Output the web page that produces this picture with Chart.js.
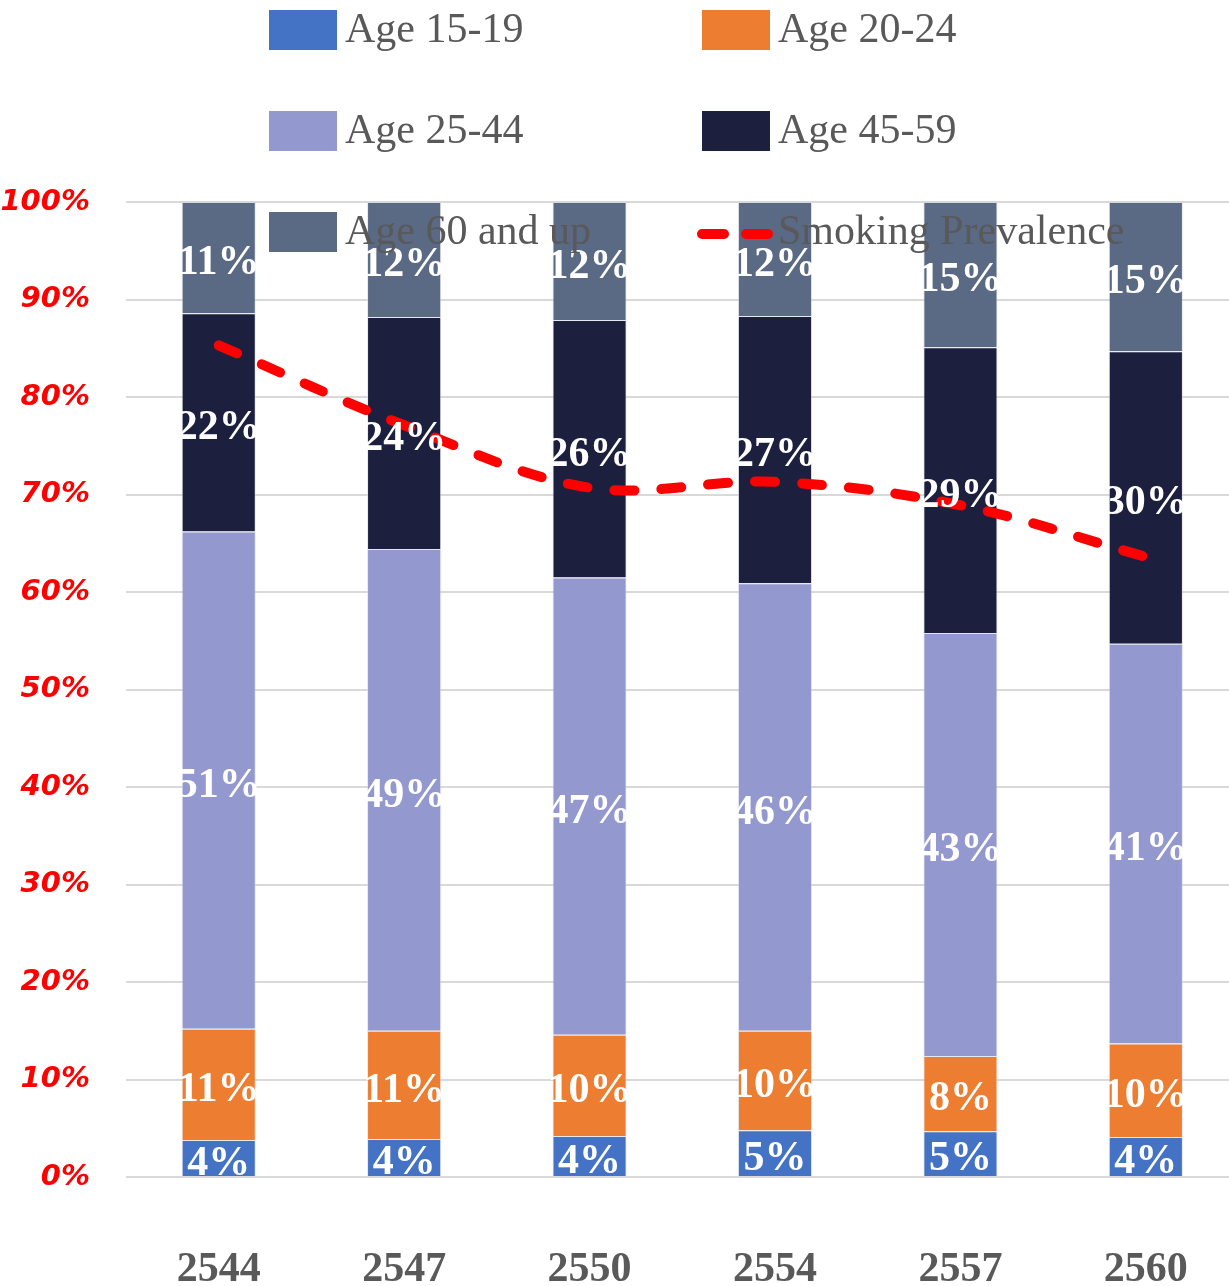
<!DOCTYPE html>
<html>
<head>
<meta charset="utf-8">
<script src="https://cdn.jsdelivr.net/npm/chart.js@4.4.1/dist/chart.umd.min.js"></script>
<style>
  html, body { margin: 0; padding: 0; background: #fff; overflow: hidden; }
  #wrap { width: 1229px; height: 1286px; overflow: hidden; position: relative; }
  #wrap canvas { position: absolute; left: 0; top: 0; }
</style>
</head>
<body>
<div id="wrap"><canvas id="chart" width="1248" height="1286" style="width:1248px;height:1286px"></canvas></div>
<script>
// Years (Buddhist era)
const years = ["2544", "2547", "2550", "2554", "2557", "2560"];

// Share of smokers by age group (%)
const age15to19 = [3.8, 3.9, 4.2, 4.8, 4.7, 4.1];
const age20to24 = [11.4, 11.1, 10.4, 10.2, 7.7, 9.6];
const age25to44 = [51.0, 49.4, 46.9, 45.9, 43.4, 41.0];
const age45to59 = [22.4, 23.8, 26.4, 27.4, 29.3, 30.0];
const age60up = [11.4, 11.8, 12.1, 11.7, 14.9, 15.3];

// Smoking prevalence (drawn on the same 0-100 scale)
const prevalence = [85.3, 77.1, 70.7, 71.3, 68.9, 63.6];

const yTicks = [0, 10, 20, 30, 40, 50, 60, 70, 80, 90, 100];

const serif = "'Liberation Serif', 'Times New Roman', serif";
const grayText = "#595959";

function barSet(label, data, color) {
  return {
    type: "bar",
    label: label,
    data: data,
    backgroundColor: color,
    borderColor: "rgba(210,214,224,0.55)",
    borderWidth: 1,
    barPercentage: 0.4,
    categoryPercentage: 1,
    order: 1,
  };
}

// white % labels in the middle of each bar segment
const segmentLabels = {
  id: "segmentLabels",
  afterDatasetsDraw(chart) {
    const ctx = chart.ctx;
    const area = chart.chartArea;
    ctx.save();
    ctx.beginPath();
    ctx.rect(area.left, area.top, area.right - area.left, area.bottom - area.top);
    ctx.clip();
    ctx.fillStyle = "#ffffff";
    ctx.font = "bold 42px " + serif;
    ctx.textAlign = "center";
    ctx.textBaseline = "middle";
    chart.data.datasets.forEach((ds, i) => {
      if (ds.type !== "bar") return;
      const meta = chart.getDatasetMeta(i);
      meta.data.forEach((el, j) => {
        const v = ds.data[j];
        const cy = (el.y + el.base) / 2;
        ctx.fillText(Math.round(v) + "%", el.x, cy + 6);
      });
    });
    ctx.restore();
  },
};

// Two-column legend drawn over the top of the chart
const gridLegend = {
  id: "gridLegend",
  afterDraw(chart) {
    const ctx = chart.ctx;
    const colX = [269, 702];
    const rowY = [30, 131, 232];
    ctx.save();
    ctx.font = "42px " + serif;
    ctx.textBaseline = "middle";
    ctx.textAlign = "left";
    chart.data.datasets.forEach((ds, i) => {
      const x = colX[i % 2];
      const y = rowY[Math.floor(i / 2)];
      if (ds.type === "line") {
        ctx.strokeStyle = ds.borderColor;
        ctx.lineWidth = 10;
        ctx.lineCap = "round";
        ctx.beginPath();
        ctx.moveTo(x, y + 2);
        ctx.lineTo(x + 22, y + 2);
        ctx.moveTo(x + 44, y + 2);
        ctx.lineTo(x + 66, y + 2);
        ctx.stroke();
      } else {
        ctx.fillStyle = ds.backgroundColor;
        ctx.fillRect(x, y - 20, 68, 40);
      }
      ctx.fillStyle = grayText;
      ctx.fillText(ds.label, x + 76, y + 1);
    });
    ctx.restore();
  },
};

new Chart(document.getElementById("chart"), {
  data: {
    labels: years,
    datasets: [
      barSet("Age 15-19", age15to19, "#4472C4"),
      barSet("Age 20-24", age20to24, "#ED7D31"),
      barSet("Age 25-44", age25to44, "#9399CF"),
      barSet("Age 45-59", age45to59, "#1D1F3E"),
      barSet("Age 60 and up", age60up, "#5A6A84"),
      {
        type: "line",
        label: "Smoking Prevalence",
        data: prevalence,
        stack: "line",
        borderColor: "#FF0000",
        borderWidth: 10,
        borderDash: [20, 27],
        borderCapStyle: "round",
        pointRadius: 0,
        tension: 0.35,
        fill: false,
        order: 0,
      },
    ],
  },
  options: {
    responsive: false,
    animation: false,
    layout: { padding: { top: 202, right: 2, left: 0, bottom: 0 } },
    plugins: {
      legend: { display: false },
      tooltip: { enabled: false },
    },
    scales: {
      x: {
        stacked: true,
        grid: { display: false },
        border: { display: false },
        ticks: {
          color: grayText,
          padding: 60,
          font: { family: serif, size: 42, weight: "bold" },
        },
        afterFit(scale) { scale.height = 109; },
      },
      y: {
        stacked: true,
        min: 0,
        max: 100,
        afterBuildTicks(scale) {
          scale.ticks = yTicks.map((v) => ({ value: v }));
        },
        grid: { color: "#d9d9d9", lineWidth: 2, drawTicks: false },
        border: { display: false },
        ticks: {
          color: "#FF0000",
          padding: 36,
          font: { family: "'DejaVu Sans', sans-serif", size: 29, weight: "bold", style: "italic" },
          callback: (v) => v + "%",
        },
        afterFit(scale) { scale.width = 126; },
      },
    },
  },
  plugins: [segmentLabels, gridLegend],
});
</script>
</body>
</html>
